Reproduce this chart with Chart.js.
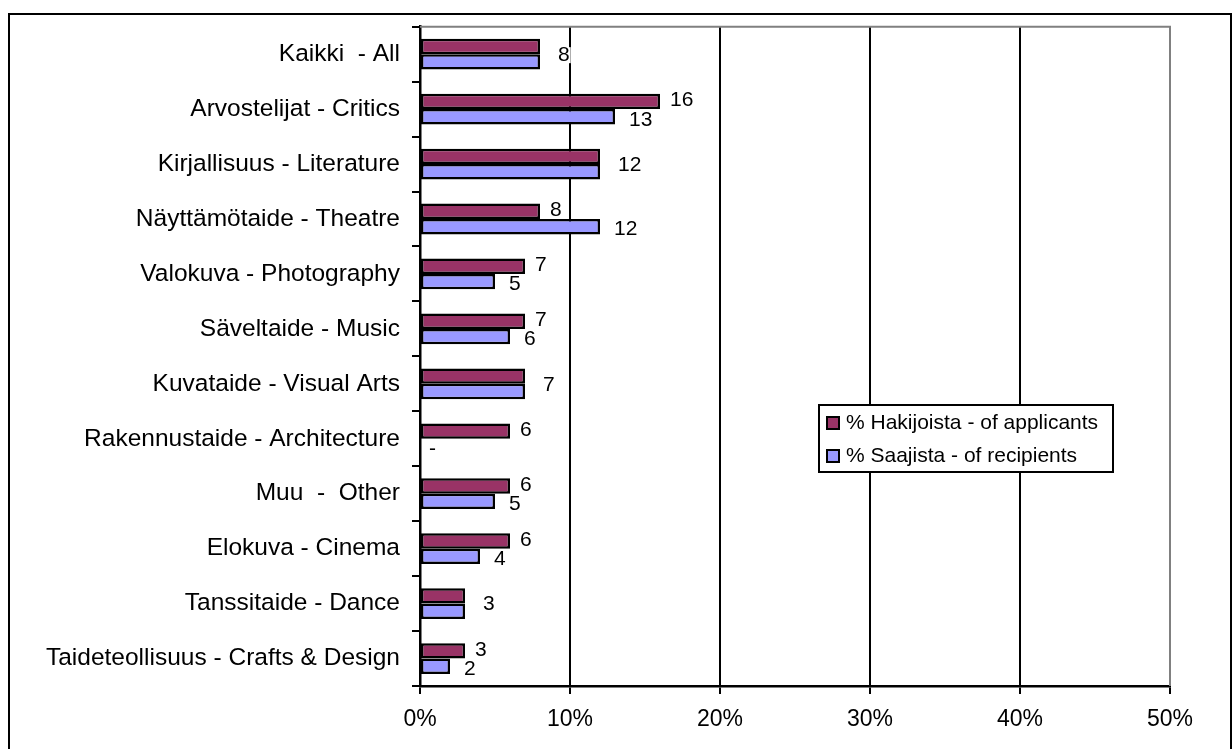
<!DOCTYPE html>
<html>
<head>
<meta charset="utf-8">
<script src="https://cdn.jsdelivr.net/npm/chart.js@4.4.1/dist/chart.umd.min.js"></script>
<style>
  html, body { margin: 0; padding: 0; background: #fff; overflow: hidden; }
  #frame { position: absolute; left: 8px; top: 13px; width: 1220px; height: 760px; border: 2px solid #000; }
  #wrap { position: absolute; left: 0; top: 0; width: 1232px; height: 749px; }
</style>
</head>
<body>
<div id="frame"></div>
<div id="wrap"><canvas id="chart"></canvas></div>
<script>
// categorias e valores (%)
const categories = [
    'Kaikki  - All',
    'Arvostelijat - Critics',
    'Kirjallisuus - Literature',
    'Näyttämötaide - Theatre',
    'Valokuva - Photography',
    'Säveltaide - Music',
    'Kuvataide - Visual Arts',
    'Rakennustaide - Architecture',
    'Muu  -  Other',
    'Elokuva - Cinema',
    'Tanssitaide - Dance',
    'Taideteollisuus - Crafts & Design'
];
const applicants = [8, 16, 12, 8, 7, 7, 7, 6, 6, 6, 3, 3];
const recipients = [8, 13, 12, 12, 5, 6, 7, 0, 5, 4, 3, 2];
const seriesNames = ['% Hakijoista - of applicants', '% Saajista - of recipients'];
const xMax = 50;
const xStep = 10;

const FONT = '"Liberation Sans", Arial, sans-serif';

// moldura cinza do plot (topo e direita)
const plotBorder = {
    id: 'plotBorder',
    beforeDatasetsDraw(chart) {
        const { ctx, chartArea: a } = chart;
        ctx.save();
        ctx.strokeStyle = '#808080';
        ctx.lineWidth = 2;
        ctx.beginPath();
        ctx.moveTo(a.left, a.top);
        ctx.lineTo(a.right, a.top);
        ctx.lineTo(a.right, a.bottom);
        ctx.stroke();
        ctx.restore();
    }
};

// rótulos de valor no fim das barras
const valueLabels = {
    id: 'valueLabels',
    afterDatasetsDraw(chart) {
        const { ctx } = chart;
        const m0 = chart.getDatasetMeta(0).data;
        const m1 = chart.getDatasetMeta(1).data;
        ctx.save();
        ctx.font = '21px ' + FONT;
        ctx.textBaseline = 'middle';
        ctx.textAlign = 'left';
        const put = (txt, x, y) => {
            const w = ctx.measureText(txt).width;
            ctx.fillStyle = '#fff';
            ctx.fillRect(x - 1, y - 8, w + 2, 16);
            ctx.fillStyle = '#000';
            ctx.fillText(txt, x, y);
        };
        categories.forEach((c, i) => {
            const a = applicants[i], r = recipients[i];
            const b0 = m0[i], b1 = m1[i];
            if (a === r) {
                put(String(a), b0.x + 18, (b0.y + b1.y) / 2 + 1);
                return;
            }
            put(String(a), b0.x + 10, b0.y - 1);
            put(r === 0 ? '-' : String(r), b1.x + (r === 0 ? 9 : 14), b1.y + 3);
        });
        ctx.restore();
    }
};

// legenda dentro da área do gráfico
const boxLegend = {
    id: 'boxLegend',
    afterDraw(chart) {
        const { ctx } = chart;
        const x = 819, y = 405, w = 294, h = 67;
        ctx.save();
        ctx.fillStyle = '#fff';
        ctx.fillRect(x, y, w, h);
        ctx.strokeStyle = '#000';
        ctx.lineWidth = 2;
        ctx.strokeRect(x, y, w, h);
        ctx.font = '21px ' + FONT;
        ctx.textBaseline = 'middle';
        chart.data.datasets.forEach((ds, i) => {
            const cy = y + 17 + i * 33;
            ctx.fillStyle = ds.backgroundColor;
            ctx.fillRect(x + 8, cy - 5, 12, 12);
            ctx.strokeRect(x + 8, cy - 5, 12, 12);
            ctx.fillStyle = '#000';
            ctx.fillText(ds.label, x + 27, cy + 1);
        });
        ctx.restore();
    }
};

new Chart(document.getElementById('chart'), {
    type: 'bar',
    data: {
        labels: categories,
        datasets: [{
            label: seriesNames[0],
            data: applicants,
            backgroundColor: '#993366',
            borderColor: '#000',
            borderWidth: 2.5,
            borderSkipped: false
        }, {
            label: seriesNames[1],
            data: recipients,
            backgroundColor: '#9999FF',
            borderColor: '#000',
            borderWidth: 2.5,
            borderSkipped: false
        }]
    },
    options: {
        indexAxis: 'y',
        responsive: true,
        maintainAspectRatio: false,
        animation: false,
        categoryPercentage: 0.56,
        barPercentage: 1,
        layout: { padding: { top: 24, right: 62, left: 0, bottom: 0 } },
        plugins: {
            legend: { display: false },
            tooltip: { enabled: false }
        },
        scales: {
            x: {
                min: 0,
                max: xMax,
                ticks: {
                    stepSize: xStep,
                    color: '#000',
                    font: { family: FONT, size: 23 },
                    padding: 12,
                    callback: v => v + '%'
                },
                grid: {
                    color: ctx => ctx.tick && ctx.tick.value === xMax ? '#808080' : '#000',
                    lineWidth: 2,
                    tickLength: 8,
                    tickColor: '#000'
                },
                border: { color: '#000', width: 2.5 },
                afterFit: s => { s.height = 63; }
            },
            y: {
                ticks: {
                    color: '#000',
                    font: { family: FONT, size: 24.5 },
                    padding: 12,
                    autoSkip: false
                },
                grid: {
                    drawOnChartArea: false,
                    tickLength: 8,
                    lineWidth: 2,
                    tickColor: '#000'
                },
                border: { color: '#000', width: 2.5 },
                afterFit: s => { s.width = 420; }
            }
        }
    },
    plugins: [plotBorder, valueLabels, boxLegend]
});
</script>
</body>
</html>
